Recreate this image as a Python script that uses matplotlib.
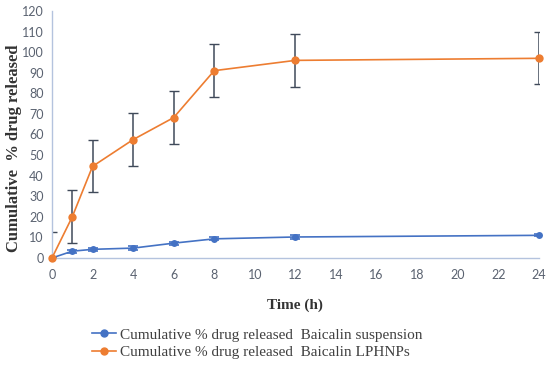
import matplotlib
matplotlib.use("Agg")
import matplotlib.pyplot as plt
from matplotlib.lines import Line2D

time_h = [0, 1, 2, 4, 6, 8, 12, 24]
suspension = [0, 3.3, 4.2, 4.8, 7.2, 9.3, 10.2, 11.0]
suspension_err = [0, 0.8, 0.8, 0.8, 0.8, 0.8, 0.8, 0.5]
lphnps = [0, 20.0, 44.5, 57.5, 68.2, 91.0, 96.0, 97.0]
lphnps_err = [12.7, 12.8, 12.6, 12.8, 12.8, 13.0, 12.8, 12.6]
xticks = list(range(0, 25, 2))
yticks = list(range(0, 121, 10))

blue = "#4472c4"
orange = "#ed7d31"
errc = "#404a5a"
spinec = "#b4c3de"
tickc = "#5a6270"

fig = plt.figure(figsize=(5.5, 3.72), dpi=100)
ax = fig.add_axes([0.0945, 0.3065, 0.885, 0.664])

ax.errorbar(time_h, lphnps, yerr=lphnps_err, fmt="none", ecolor=errc,
            elinewidth=1.1, capsize=3.5, capthick=1.0, zorder=2)
ax.errorbar(time_h, suspension, yerr=suspension_err, fmt="none", ecolor=blue,
            elinewidth=1.0, capsize=3.5, capthick=1.2, zorder=2)
ax.plot(time_h, suspension, color=blue, lw=1.2, marker="o", ms=5,
        markeredgewidth=0, zorder=3, clip_on=False)
ax.plot(time_h, lphnps, color=orange, lw=1.2, marker="o", ms=6,
        markeredgewidth=0, zorder=4, clip_on=False)

ax.set_xlim(0, 24)
ax.set_ylim(0, 120)
ax.set_xticks(xticks)
ax.set_yticks(yticks)
for s in ["top", "right"]:
    ax.spines[s].set_visible(False)
ax.spines["left"].set_color(spinec)
ax.spines["bottom"].set_color(spinec)
ax.spines["left"].set_linewidth(1.0)
ax.spines["bottom"].set_linewidth(1.0)
ax.tick_params(length=0, labelsize=9, labelcolor=tickc)
ax.tick_params(axis="x", pad=8)
ax.tick_params(axis="y", pad=6)
for lab in ax.get_xticklabels() + ax.get_yticklabels():
    lab.set_family("Lato")

ax.set_xlabel("Time (h)", family="Liberation Serif", fontweight="bold",
              fontsize=11, color="#333333")
ax.xaxis.set_label_coords(0.5, -0.165)
ax.set_ylabel("Cumulative  % drug released", family="Liberation Serif",
              fontweight="bold", fontsize=12, color="#333333")
ax.yaxis.set_label_coords(-0.062, 0.445)

handles = [Line2D([], [], color=blue, lw=1.2, marker="o", ms=5),
           Line2D([], [], color=orange, lw=1.2, marker="o", ms=5)]
labels = ["Cumulative % drug released  Baicalin suspension",
          "Cumulative % drug released  Baicalin LPHNPs"]
fig.legend(handles, labels, loc="upper left", bbox_to_anchor=(0.167, 0.118),
           frameon=False, prop={"family": "Liberation Serif", "size": 11},
           labelcolor="#404040", handlelength=1.6, handletextpad=0.25,
           labelspacing=0.25, borderaxespad=0, borderpad=0)

fig.savefig("out.png", dpi=100)
